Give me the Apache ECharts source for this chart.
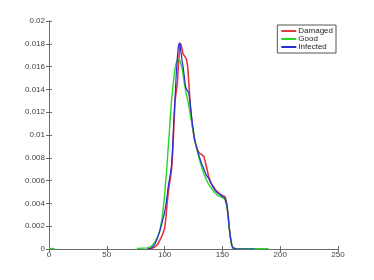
<!DOCTYPE html>
<html><head><meta charset="utf-8">
<script src="https://cdn.jsdelivr.net/npm/echarts@6/dist/echarts.min.js"></script>
<style>html,body{margin:0;padding:0;background:#fff}#c{width:374px;height:280px}</style>
</head><body><div id="c"></div>
<script>
var seriesNames = ['Damaged', 'Good', 'Infected'];
var xValues = [0, 5, 40, 76, 85, 88, 90, 92, 94, 96, 98, 100, 101, 102, 103, 104, 105, 106, 107, 108, 109, 110, 111, 112, 113, 114, 115, 116, 117, 118, 119, 120, 121, 122, 123, 124, 126, 128, 130, 132, 134, 136, 138, 140, 142, 144, 146, 148, 150, 152, 153, 154, 155, 156, 157, 158, 159, 160, 162, 170, 178, 190];
var damaged = [null, null, null, null, 0, 0, 0.0001, 0.0002, 0.0004, 0.0008, 0.0012, 0.0018, 0.0026, 0.0038, 0.0048, 0.0056, 0.0062, 0.007, 0.0085, 0.0108, 0.013, 0.0131, 0.0145, 0.0162, 0.0177, 0.018, 0.0176, 0.0171, 0.0171, 0.0168, 0.0166, 0.016, 0.0145, 0.0128, 0.0117, 0.0108, 0.0095, 0.0088, 0.0084, 0.0083, 0.0081, 0.0073, 0.0064, 0.0058, 0.0055, 0.0052, 0.005, 0.0048, 0.0047, 0.0046, 0.0044, 0.0038, 0.0029, 0.0018, 0.001, 0.0004, 0.0001, 0.00003, 0, 0, null, null];
var good = [0.00005, 0.00003, null, 0.00005, 0.0001, 0.0002, 0.0004, 0.0007, 0.0011, 0.0017, 0.0028, 0.0047, 0.006, 0.0072, 0.0087, 0.0101, 0.0117, 0.013, 0.0141, 0.015, 0.0158, 0.0163, 0.0166, 0.0167, 0.0166, 0.0163, 0.0159, 0.0153, 0.0146, 0.014, 0.0135, 0.0131, 0.0125, 0.0119, 0.0113, 0.0108, 0.0096, 0.0087, 0.0079, 0.0072, 0.0066, 0.0061, 0.0057, 0.0054, 0.0051, 0.0049, 0.0047, 0.0046, 0.0045, 0.0044, 0.0043, 0.0037, 0.0028, 0.0017, 0.0009, 0.0004, 0.0001, 0.00004, 0.00002, 0.00002, 0.00002, 0.00003];
var infected = [null, null, null, null, 0, 0.00005, 0.0002, 0.0005, 0.001, 0.0016, 0.0024, 0.0032, 0.0038, 0.0045, 0.0054, 0.006, 0.0066, 0.0073, 0.009, 0.0113, 0.0131, 0.0152, 0.0168, 0.0179, 0.0181, 0.0174, 0.0166, 0.016, 0.0152, 0.0143, 0.014, 0.014, 0.0137, 0.0129, 0.012, 0.011, 0.0096, 0.0088, 0.0081, 0.0075, 0.007, 0.0065, 0.0062, 0.0058, 0.0054, 0.0051, 0.0049, 0.0048, 0.0046, 0.0045, 0.0044, 0.0038, 0.0029, 0.0018, 0.001, 0.0004, 0.0001, 0.00003, 0, 0, 0, null];
var xTicks = [0, 50, 100, 150, 200, 250];
var yTicks = [0, 0.002, 0.004, 0.006, 0.008, 0.01, 0.012, 0.014, 0.016, 0.018, 0.02];

function pairs(ys) { return xValues.map(function (x, i) { return [x, ys[i]]; }); }

var axisCol = '#6b6b6b';
var lbl = { color: '#444', fontSize: 8, fontFamily: 'Liberation Sans, Arial, sans-serif' };
var chart = echarts.init(document.getElementById('c'), null, { renderer: 'canvas' });
chart.setOption({
  animation: false,
  backgroundColor: '#fff',
  grid: { left: 49, right: 36, top: 21, bottom: 31 },
  legend: {
    right: 38, top: 25, orient: 'vertical', itemGap: 0,
    backgroundColor: '#fff', borderColor: '#555', borderWidth: 1, borderRadius: 0,
    padding: [2, 3, 2, 4], icon: 'rect', itemWidth: 15, itemHeight: 2,
    textStyle: { color: '#222', fontSize: 8, fontFamily: 'Liberation Sans, Arial, sans-serif', padding: [0, 0, 0, -3] },
    data: seriesNames
  },
  xAxis: [{
    type: 'value', min: 0, max: 250, interval: 50,
    axisLine: { show: true, lineStyle: { color: axisCol, width: 1 } },
    axisTick: { show: true, inside: true, length: 3, lineStyle: { color: axisCol } },
    splitLine: { show: false },
    axisLabel: Object.assign({ margin: 2, customValues: xTicks }, lbl)
  }, {
    type: 'value', position: 'top', min: 0, max: 250, interval: 50,
    axisLine: { show: true, lineStyle: { color: axisCol, width: 1 } },
    axisTick: { show: true, inside: true, length: 3, lineStyle: { color: axisCol } },
    axisLabel: { show: false }, splitLine: { show: false }
  }],
  yAxis: [{
    type: 'value', min: 0, max: 0.02, interval: 0.002,
    axisLine: { show: true, lineStyle: { color: axisCol, width: 1 } },
    axisTick: { show: true, inside: true, length: 3, lineStyle: { color: axisCol } },
    splitLine: { show: false },
    axisLabel: Object.assign({ margin: 4, formatter: function (v) { return String(+v.toFixed(3)); } }, lbl)
  }, {
    type: 'value', position: 'right', min: 0, max: 0.02, interval: 0.002,
    axisLine: { show: true, lineStyle: { color: axisCol, width: 1 } },
    axisTick: { show: true, inside: true, length: 3, lineStyle: { color: axisCol } },
    axisLabel: { show: false }, splitLine: { show: false }
  }],
  series: [
    { name: 'Damaged', type: 'line', data: pairs(damaged), showSymbol: false, symbol: 'none', connectNulls: false,
      itemStyle: { color: '#e03a3a' }, lineStyle: { color: '#e03a3a', width: 1.6 }, z: 2 },
    { name: 'Good', type: 'line', data: pairs(good), showSymbol: false, symbol: 'none', connectNulls: false,
      itemStyle: { color: '#27d627' }, lineStyle: { color: '#27d627', width: 1.4 }, z: 3 },
    { name: 'Infected', type: 'line', data: pairs(infected), showSymbol: false, symbol: 'none', connectNulls: false,
      itemStyle: { color: '#2a2ad8' }, lineStyle: { color: '#2a2ad8', width: 1.2 }, z: 4 }
  ]
});
</script></body></html>
